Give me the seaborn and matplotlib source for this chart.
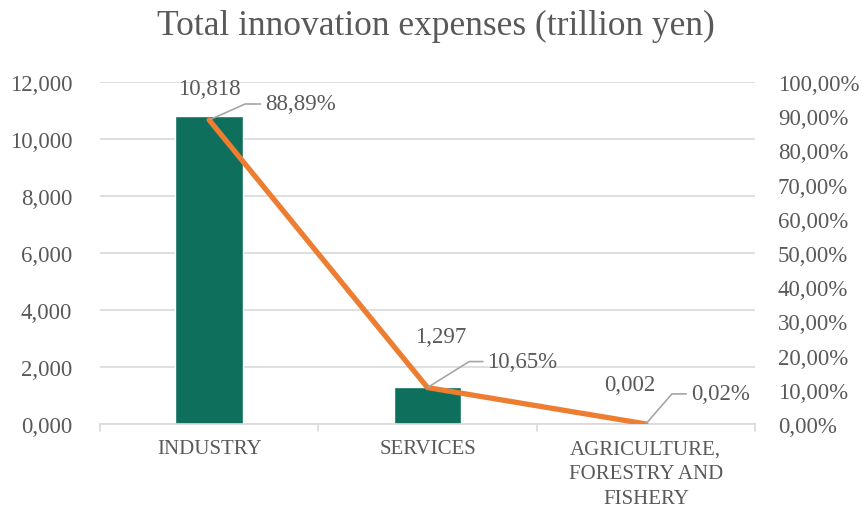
import matplotlib
matplotlib.use("Agg")
import matplotlib.pyplot as plt
import seaborn as sns
import numpy as np
import pandas as pd

# Data
categories = ["INDUSTRY", "SERVICES", "AGRICULTURE,\nFORESTRY AND\nFISHERY"]
expenses = [10.818, 1.297, 0.002]          # trillion yen
shares = [88.89, 10.65, 0.02]              # percent of total
left_ticks = [0, 2, 4, 6, 8, 10, 12]
right_ticks = [0, 10, 20, 30, 40, 50, 60, 70, 80, 90, 100]

# label placement (pixel offsets from the mark)
bar_label_offsets = [(0, 22), (13, 45), (-16, 34)]
share_label_offsets = [(56, 16), (60, 26), (45, 30)]
leader_angles = [24, 32, 49]

sns.set_theme(style="white")
plt.rcParams["font.family"] = ["Liberation Serif", "DejaVu Serif"]

TEXT = "#595959"
BAR = "#0E6F5C"
LINE = "#ED7D31"
GRID = "#D9D9D9"
LEADER = "#A6A6A6"
FS = 16.5


def comma(v, nd):
    return f"{v:.{nd}f}".replace(".", ",")


fig = plt.figure(figsize=(8.66, 5.10), dpi=100)
ax = fig.add_axes([100 / 866, 85 / 510, 655 / 866, 342 / 510])

df = pd.DataFrame({"sector": categories, "expenses": expenses})
sns.barplot(data=df, x="sector", y="expenses", color=BAR, saturation=1,
            width=0.31, ax=ax, zorder=2)

ax.set_ylim(0, 12)
ax.set_xlim(-0.5, 2.5)
ax.set_yticks(left_ticks)
ax.set_yticklabels([comma(t, 3) for t in left_ticks], color=TEXT, fontsize=FS)
ax.set_xticks(range(len(categories)))
ax.set_xticklabels(categories, color=TEXT, fontsize=15, linespacing=1.42)
ax.tick_params(axis="x", length=0, pad=11)
ax.tick_params(axis="y", length=0, pad=20)
ax.set_xlabel("")
ax.set_ylabel("")
ax.yaxis.grid(True, color=GRID, linewidth=1.2, zorder=0)
ax.set_axisbelow(True)
for s in ["top", "right", "left"]:
    ax.spines[s].set_visible(False)
ax.spines["bottom"].set_color(GRID)
ax.spines["bottom"].set_linewidth(1.2)

# category separator ticks below the axis
for xb in [-0.5, 0.5, 1.5, 2.5]:
    ax.plot([xb, xb], [0, -0.25], color=GRID, lw=1.2, clip_on=False, zorder=1)

# bar value labels
for i, v in enumerate(expenses):
    dx, dy = bar_label_offsets[i]
    ax.annotate(comma(v, 3), (i, v), xytext=(dx, dy), textcoords="offset pixels",
                ha="center", va="baseline", color=TEXT, fontsize=FS)

# share line on secondary axis
ax2 = ax.twinx()
sns.lineplot(x=np.arange(len(shares)), y=shares, color=LINE, linewidth=3.8,
             ax=ax2, zorder=3)
ax2.set_ylim(0, 100)
ax2.set_yticks(right_ticks)
ax2.set_yticklabels([comma(t, 2) + "%" for t in right_ticks], color=TEXT, fontsize=FS)
ax2.tick_params(axis="y", length=0, pad=16.5)
ax2.set_ylabel("")
ax2.grid(False)
for s in ax2.spines.values():
    s.set_visible(False)
ax2.set_xlim(-0.5, 2.5)

for i, p in enumerate(shares):
    dx, dy = share_label_offsets[i]
    ax2.annotate(comma(p, 2) + "%", (i, p), xytext=(dx, dy), textcoords="offset pixels",
                 ha="left", va="center", color=TEXT, fontsize=FS,
                 arrowprops=dict(arrowstyle="-", color=LEADER, lw=1.2,
                                 shrinkA=1, shrinkB=1,
                                 connectionstyle=f"angle,angleA=180,angleB={leader_angles[i]},rad=0"))

fig.text(0.503, 1 - 35 / 510, "Total innovation expenses (trillion yen)",
         ha="center", va="baseline", color=TEXT, fontsize=25.5)

fig.savefig("out.png", dpi=100)
